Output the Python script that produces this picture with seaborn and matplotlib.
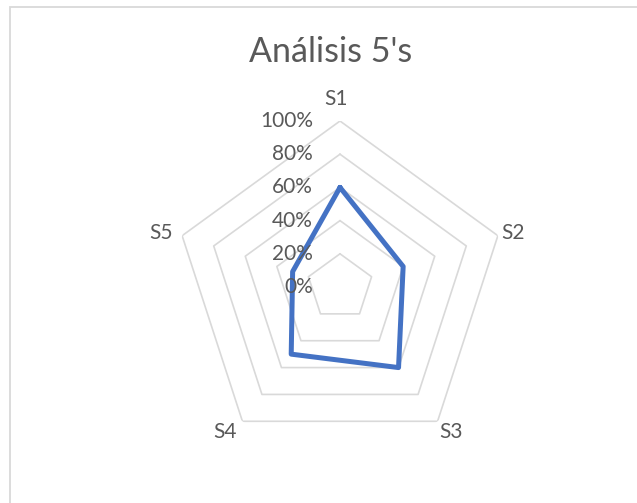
import numpy as np
import pandas as pd
import seaborn as sns
import matplotlib
matplotlib.use("Agg")
import matplotlib.pyplot as plt
from matplotlib.transforms import ScaledTranslation
from matplotlib.patches import Rectangle

categories = ["S1", "S2", "S3", "S4", "S5"]
values = [0.60, 0.40, 0.60, 0.50, 0.30]
tick_values = [0.0, 0.2, 0.4, 0.6, 0.8, 1.0]
tick_labels = ["0%", "20%", "40%", "60%", "80%", "100%"]
title = "Análisis 5's"

sns.set_theme(style="white")
plt.rcParams["font.family"] = ["Lato", "DejaVu Sans"]
TXT = "#595959"
GRID = "#D9D9D9"
LINE = "#4472C4"

W, H = 637, 503
fig = plt.figure(figsize=(W / 100, H / 100), dpi=100)
fig.patch.set_facecolor("white")

# chart-area border
fig.add_artist(Rectangle((9.5 / W, -0.1), 1.0, (H - 6.5) / H + 0.1, transform=fig.transFigure,
                         fill=False, edgecolor=GRID, linewidth=1.3))

cx, cy, R = 340, 287, 166
ax = fig.add_axes([(cx - R) / W, (H - cy - R) / H, 2 * R / W, 2 * R / H], projection="polar")
ax.set_theta_zero_location("N")
ax.set_theta_direction(-1)
ax.set_ylim(0, 1)
ax.grid(False)
ax.spines["polar"].set_visible(False)
ax.set_xticks([])
ax.set_yticks([])
ax.set_facecolor("none")

n = len(categories)
angles = np.arange(n) * 2 * np.pi / n

# pentagon grid
for t in tick_values[1:]:
    ax.plot(np.append(angles, angles[0]), [t] * (n + 1), color=GRID, lw=1.2, zorder=1)

df = pd.DataFrame({"theta": np.append(angles, angles[0]),
                   "r": values + [values[0]]})
sns.lineplot(data=df, x="theta", y="r", sort=False, ax=ax, color=LINE, lw=3.6,
             estimator=None, zorder=3)
ax.set_xlabel("")
ax.set_ylabel("")
ax.set_ylim(0, 1)

# category labels
place = [("center", "bottom", -4, 12), ("left", "center", 3, 3), ("left", "top", 2, -1),
         ("right", "top", -6, -1), ("right", "center", -9, 3)]
for a, lab, (ha, va, dx, dy) in zip(angles, categories, place):
    ax.text(a, 1.0, lab, ha=ha, va=va, fontsize=15, color=TXT,
            transform=ax.transData + ScaledTranslation(dx / 100, dy / 100, fig.dpi_scale_trans))

# radial tick labels
for t, lab in zip(tick_values, tick_labels):
    ax.text(0, t, lab, ha="right", va="center", fontsize=15, color=TXT,
            transform=ax.transData + ScaledTranslation(-27 / 100, 0, fig.dpi_scale_trans))

fig.text(331 / W, 1 - 52 / H, title, ha="center", va="center", fontsize=24.5, color=TXT)

fig.savefig("out.png", dpi=100, facecolor="white")
